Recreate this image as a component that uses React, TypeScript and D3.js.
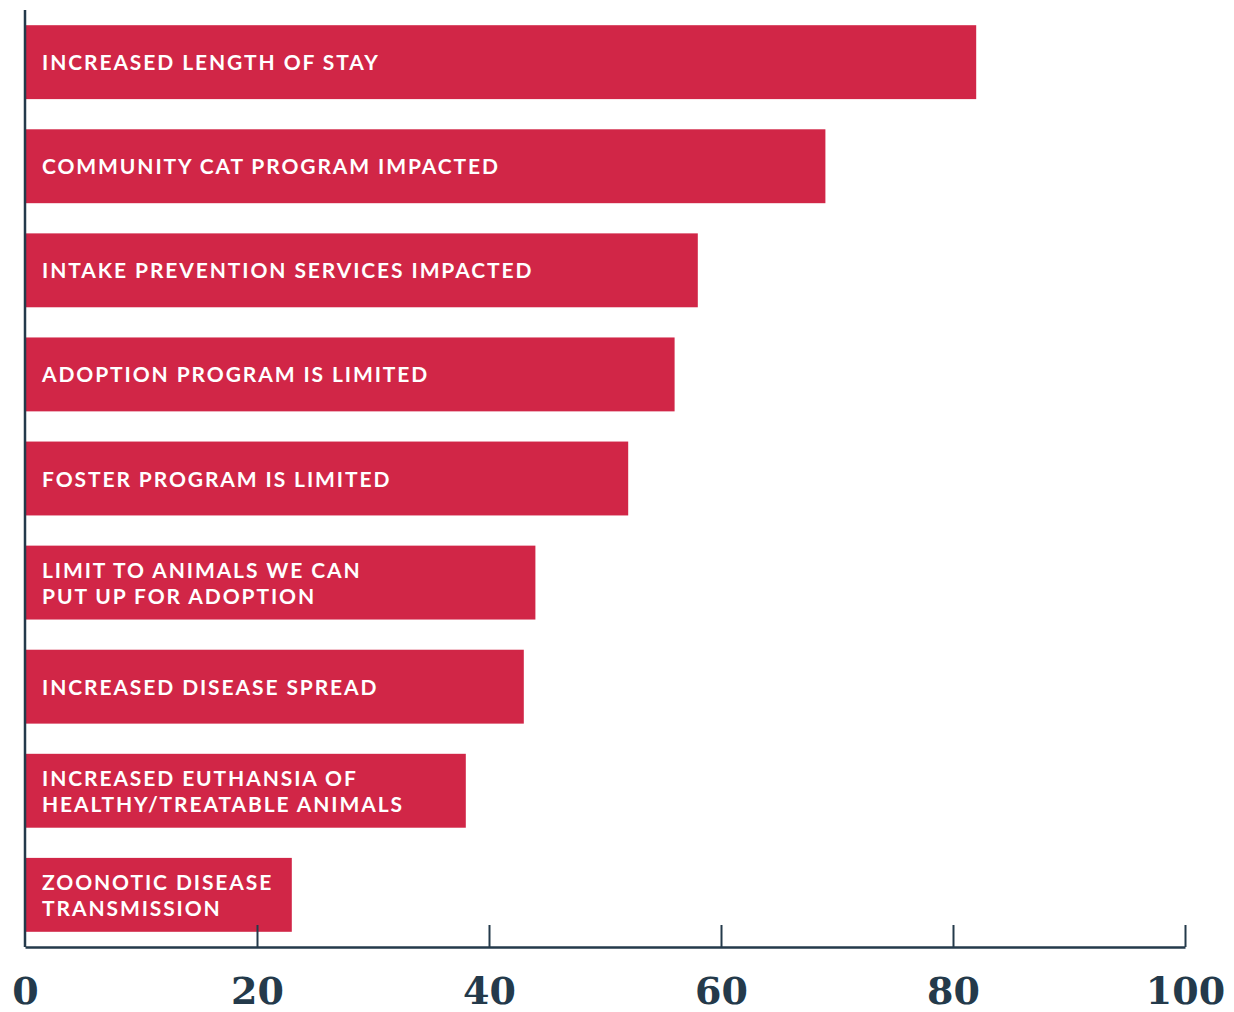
import { useEffect, useRef } from "react";
import * as d3 from "d3";

const categories = [
  ["INCREASED LENGTH OF STAY"],
  ["COMMUNITY CAT PROGRAM IMPACTED"],
  ["INTAKE PREVENTION SERVICES IMPACTED"],
  ["ADOPTION PROGRAM IS LIMITED"],
  ["FOSTER PROGRAM IS LIMITED"],
  ["LIMIT TO ANIMALS WE CAN", "PUT UP FOR ADOPTION"],
  ["INCREASED DISEASE SPREAD"],
  ["INCREASED EUTHANSIA OF", "HEALTHY/TREATABLE ANIMALS"],
  ["ZOONOTIC DISEASE", "TRANSMISSION"],
];
const values = [82, 69, 58, 56, 52, 44, 43, 38, 23];
const tickValues = [0, 20, 40, 60, 80, 100];

const W = 1234;
const H = 1012;
const BAR = "#d12647";
const AXIS = "#243a4b";

const App = () => {
  const ref = useRef(null);

  useEffect(() => {
    const svg = d3.select(ref.current);
    svg.selectAll("*").remove();

    const x = d3.scaleLinear().domain([0, 100]).range([25, 1185]);
    const y = d3
      .scaleBand()
      .domain(categories.map((_, i) => String(i)))
      .range([20, 937])
      .paddingInner(0.29)
      .paddingOuter(0.05);

    // bars
    const rows = svg
      .append("g")
      .selectAll("g")
      .data(values)
      .join("g");

    rows
      .append("rect")
      .attr("x", x(0) + 1)
      .attr("y", (_, i) => y(String(i)))
      .attr("width", (d) => x(d) - x(0) - 1)
      .attr("height", y.bandwidth())
      .attr("fill", BAR);

    // labels inside bars
    rows
      .append("text")
      .attr("x", 42)
      .attr("y", (_, i) => y(String(i)) + y.bandwidth() / 2)
      .attr("fill", "#fff")
      .attr("font-family", "Lato, 'Open Sans', sans-serif")
      .attr("font-weight", 700)
      .attr("font-size", 21)
      .attr("letter-spacing", 1.9)
      .each(function (_, i) {
        const lines = categories[i];
        const t = d3.select(this);
        const start = -((lines.length - 1) * 26) / 2 + 8;
        lines.forEach((l, j) => {
          t.append("tspan")
            .attr("x", 42)
            .attr("dy", j === 0 ? start : 26)
            .text(l);
        });
      });

    // vertical axis line
    svg
      .append("line")
      .attr("x1", 25)
      .attr("x2", 25)
      .attr("y1", 10)
      .attr("y2", 947)
      .attr("stroke", AXIS)
      .attr("stroke-width", 2.5);

    // x axis
    const xAxis = d3
      .axisBottom(x)
      .tickValues(tickValues)
      .tickSize(-22)
      .tickSizeOuter(0)
      .tickFormat((d) => String(d));

    svg
      .append("g")
      .attr("transform", `translate(0, 947)`)
      .call(xAxis)
      .call((g) => g.select(".domain").attr("stroke", AXIS).attr("stroke-width", 2.5))
      .call((g) =>
        g
          .selectAll(".tick line")
          .attr("stroke", AXIS)
          .attr("stroke-width", 2)
          .attr("opacity", (d) => (d === 0 ? 0 : 1))
      )
      .call((g) =>
        g
          .selectAll(".tick text")
          .attr("y", 0)
          .attr("dy", 57)
          .attr("fill", AXIS)
          .attr("font-family", "'DejaVu Serif', serif")
          .attr("font-weight", 700)
          .attr("font-size", 38)
          .style("font-variant-numeric", "oldstyle-nums")
      );
  }, []);

  return (
    <svg
      ref={ref}
      width={W}
      height={H}
      style={{ display: "block", margin: "-8px 0 0 -8px", background: "#fff" }}
    ></svg>
  );
};

export default App;
